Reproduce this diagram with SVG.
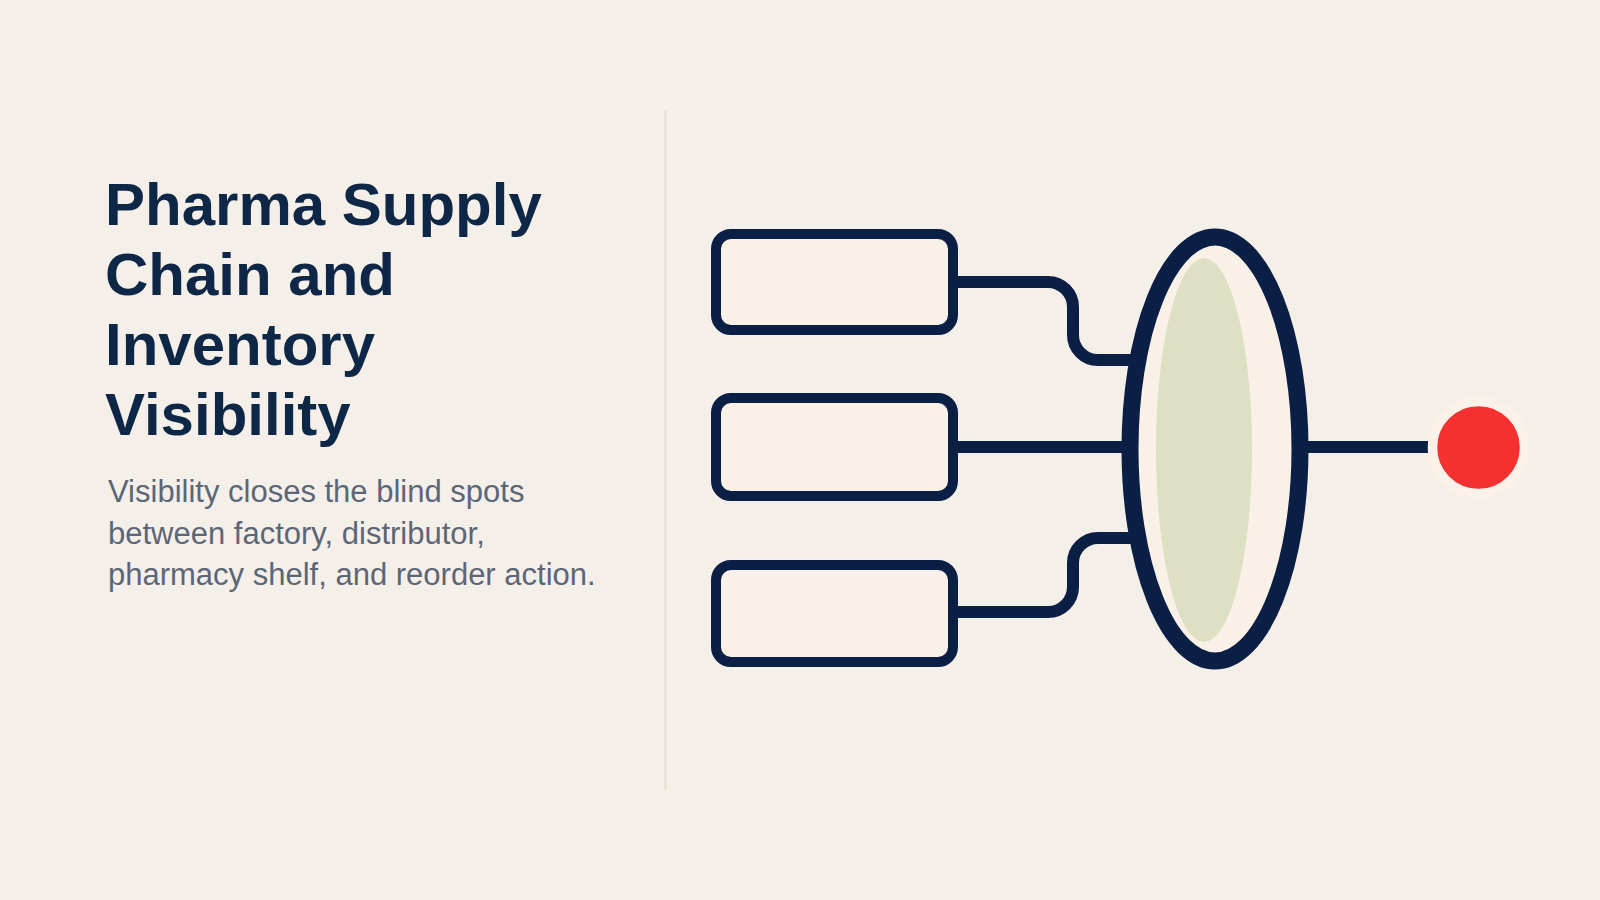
<svg xmlns="http://www.w3.org/2000/svg" width="1600" height="900" viewBox="0 0 1600 900">
  <style>
    .title { font-family: "Liberation Sans", Arial, sans-serif; font-weight: bold; font-size: 60px; fill: #0f2747; }
    .sub { font-family: "Liberation Sans", Arial, sans-serif; font-size: 31px; fill: #5c6676; }
    .box { fill: #f9f1e8; stroke: #0b1f45; stroke-width: 10; }
    .conn { fill: none; stroke: #0b1f45; stroke-width: 12; }
  </style>
  <rect width="1600" height="900" fill="#f4f0e9"/>
  <g id="title">
    <text class="title" x="105" y="225">Pharma Supply</text>
    <text class="title" x="105" y="295">Chain and</text>
    <text class="title" x="105" y="365">Inventory</text>
    <text class="title" x="105" y="435">Visibility</text>
  </g>
  <g id="subtitle">
    <text class="sub" x="108" y="502">Visibility closes the blind spots</text>
    <text class="sub" x="108" y="543.5">between factory, distributor,</text>
    <text class="sub" x="108" y="585">pharmacy shelf, and reorder action.</text>
  </g>
  <line id="divider" x1="665.5" y1="110" x2="665.5" y2="790" stroke="#e6e0d2" stroke-width="2"/>
  <g id="connectors">
    <path class="conn" d="M 958 282 H 1048 A 25 25 0 0 1 1073 307 V 335 A 25 25 0 0 0 1098 360 H 1138"/>
    <path class="conn" d="M 958 447 H 1135"/>
    <path class="conn" d="M 958 612 H 1048 A 25 25 0 0 0 1073 587 V 563 A 25 25 0 0 1 1098 538 H 1138"/>
    <path class="conn" d="M 1300 447 H 1435"/>
  </g>
  <g id="box-top"><rect class="box" x="716" y="234" width="237" height="96" rx="15"/></g>
  <g id="box-middle"><rect class="box" x="716" y="398" width="237" height="98" rx="15"/></g>
  <g id="box-bottom"><rect class="box" x="716" y="565" width="237" height="97" rx="15"/></g>
  <g id="hub">
    <ellipse cx="1215" cy="449" rx="85" ry="212" fill="#f9f1e8" stroke="#0b1f45" stroke-width="17"/>
    <ellipse cx="1204" cy="450" rx="48" ry="192" fill="#dde0c2"/>
  </g>
  <g id="endpoint">
    <circle cx="1478.5" cy="447.5" r="46" fill="#f43030" stroke="#faf1e8" stroke-width="9.5"/>
  </g>
</svg>
